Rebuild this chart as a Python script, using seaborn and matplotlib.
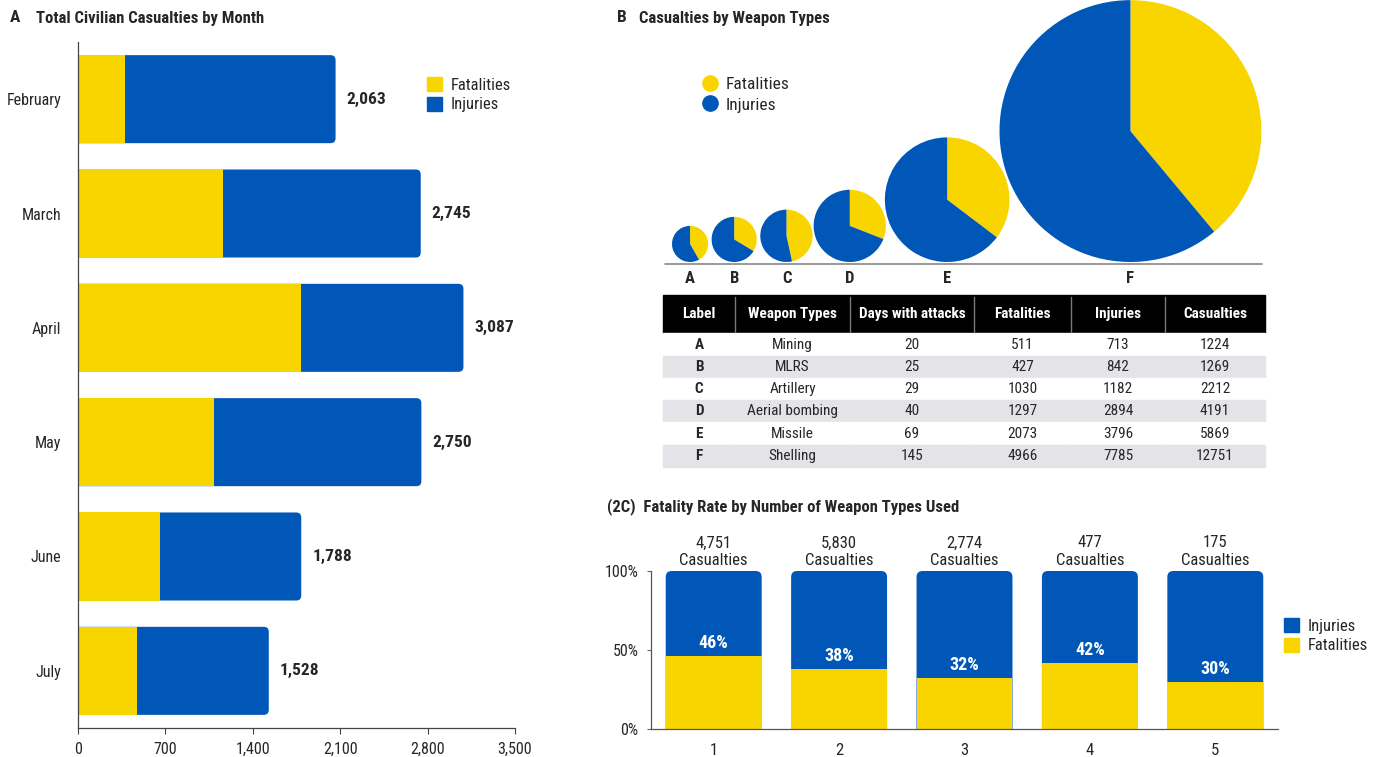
import numpy as np
import pandas as pd
import matplotlib
matplotlib.use("Agg")
import matplotlib.pyplot as plt
import seaborn as sns
from matplotlib import font_manager
from matplotlib.patches import FancyBboxPatch, Patch
from matplotlib.lines import Line2D

# DATA
months = ["February", "March", "April", "May", "June", "July"]
month_fatalities = [375, 1160, 1788, 1088, 657, 475]
month_totals = [2063, 2745, 3087, 2750, 1788, 1528]

weapon_labels = ["A", "B", "C", "D", "E", "F"]
weapon_types = ["Mining", "MLRS", "Artillery", "Aerial bombing", "Missile", "Shelling"]
attack_days = [20, 25, 29, 40, 69, 145]
weapon_fatalities = [511, 427, 1030, 1297, 2073, 4966]
weapon_injuries = [713, 842, 1182, 2894, 3796, 7785]
weapon_casualties = [1224, 1269, 2212, 4191, 5869, 12751]

n_weapon_types = ["1", "2", "3", "4", "5"]
n_casualties = [4751, 5830, 2774, 477, 175]
n_fatality_rate = [0.46, 0.38, 0.32, 0.42, 0.30]

# STYLE / LAYOUT
YELLOW = "#F9D500"
BLUE = "#0057B7"
W, H = 1381, 757
PX_PER_DAY = 0.903          # pie radius per day with attacks
PIE_GAPS = [3.5, 3.5, 1, -1, -10]

sns.set_theme(style="white")
avail = {f.name for f in font_manager.fontManager.ttflist}
FONT = "Roboto"
for cand in ["Roboto Condensed", "Liberation Sans Narrow", "Roboto"]:
    if cand in avail:
        FONT = cand
        break
plt.rcParams["font.family"] = [FONT, "DejaVu Sans"]

fig = plt.figure(figsize=(W / 100, H / 100), dpi=100)


def px_axes(left, top, right, bottom):
    return fig.add_axes([left / W, 1 - bottom / H, (right - left) / W, (bottom - top) / H])


def round_bars(ax, rad_px, horizontal=False):
    # swap bars for rounded boxes; the base end starts outside the axes
    # so its rounded corners are clipped away
    x0, x1 = ax.get_xlim()
    y0, y1 = ax.get_ylim()
    ppx = ax.bbox.width / abs(x1 - x0)
    ppy = ax.bbox.height / abs(y1 - y0)
    for p in list(ax.patches):
        x, y, w, h = p.get_x(), p.get_y(), p.get_width(), p.get_height()
        if horizontal:
            s = -2 * rad_px / ppx
            x, w = s, x + w - s
        else:
            s = -2 * rad_px / ppy
            y, h = s, y + h - s
        box = FancyBboxPatch((x, y), w, h,
                             boxstyle=f"round,pad=0,rounding_size={rad_px / ppx}",
                             mutation_aspect=ppx / ppy,
                             facecolor=p.get_facecolor(), edgecolor="none", linewidth=0)
        p.remove()
        ax.add_patch(box)


# ---------------- A ----------------
axA = px_axes(78, 42, 515, 728)
dfA = pd.DataFrame({"month": months, "fat": month_fatalities, "total": month_totals})
sns.barplot(data=dfA, x="total", y="month", color=BLUE, saturation=1, width=0.77,
            orient="h", linewidth=0, ax=axA)
axA.set_xlim(0, 3500)
round_bars(axA, 5, horizontal=True)
sns.barplot(data=dfA, x="fat", y="month", color=YELLOW, saturation=1, width=0.77,
            orient="h", linewidth=0, ax=axA)
axA.set_xlim(0, 3500)
axA.set_xticks(np.arange(0, 3501, 700))
axA.set_xticklabels([f"{v:,}" for v in range(0, 3501, 700)], fontsize=11.5)
axA.tick_params(axis="x", length=4, width=0.8, color="#444", pad=6, bottom=True)
axA.tick_params(axis="y", length=0, pad=12, labelsize=11.5)
axA.set_xlabel("")
axA.set_ylabel("")
sns.despine(ax=axA)
for s in ["left", "bottom"]:
    axA.spines[s].set_color("#444")
    axA.spines[s].set_linewidth(0.9)
for i, t in enumerate(month_totals):
    axA.text(t + 88, i, f"{t:,}", va="center", ha="left", fontweight="bold", fontsize=12.5)

fig.text(10 / W, 1 - 18 / H, "A", fontweight="bold", fontsize=12.5, va="center")
fig.text(36 / W, 1 - 18 / H, "Total Civilian Casualties by Month", fontweight="bold",
         fontsize=12, va="center")
fig.legend(handles=[Patch(color=YELLOW, label="Fatalities"), Patch(color=BLUE, label="Injuries")],
           loc="upper left", bbox_to_anchor=(427 / W, 1 - 77 / H), frameon=False,
           fontsize=12, handlelength=0.9, handleheight=0.9, handletextpad=0.5,
           labelspacing=0.25, borderpad=0, borderaxespad=0)

# ---------------- B ----------------
fig.text(617 / W, 1 - 18 / H, "B", fontweight="bold", fontsize=12.5, va="center")
fig.text(639 / W, 1 - 18 / H, "Casualties by Weapon Types", fontweight="bold",
         fontsize=12, va="center")

axP = px_axes(600, 0, 1381, 290)
radii = np.array(attack_days) * PX_PER_DAY
base_y = H - 262
cx = 672 + radii[0]
for i, r in enumerate(radii):
    if i > 0:
        cx = cx + radii[i - 1] + PIE_GAPS[i - 1] + r
    axP.pie([weapon_fatalities[i], weapon_injuries[i]], colors=[YELLOW, BLUE],
            startangle=90, counterclock=False, radius=r, center=(cx, base_y + r),
            frame=False, wedgeprops=dict(linewidth=0))
    axP.text(cx, H - 278, weapon_labels[i], ha="center", va="center",
             fontweight="bold", fontsize=12)
axP.plot([665, 1262], [H - 264, H - 264], color="#888", lw=1.2)
axP.set_xlim(600, 1381)
axP.set_ylim(H - 290, H)
axP.set_aspect("equal", adjustable="box")
axP.axis("off")

fig.legend(handles=[Line2D([], [], marker="o", ls="", color=YELLOW, markersize=11, label="Fatalities"),
                    Line2D([], [], marker="o", ls="", color=BLUE, markersize=11, label="Injuries")],
           loc="upper left", bbox_to_anchor=(701 / W, 1 - 77 / H), frameon=False,
           fontsize=12.5, handlelength=1.0, handletextpad=0.4, labelspacing=0.3,
           borderpad=0, borderaxespad=0)

# table
TBL_L, TBL_T, TBL_R, TBL_B = 663, 295, 1265, 467
HEAD_PX, ROW_PX = 38, 22
axT = px_axes(TBL_L, TBL_T, TBL_R, TBL_B)
axT.axis("off")
col_labels = ["Label", "Weapon Types", "Days with attacks", "Fatalities", "Injuries", "Casualties"]
cell_text = [[weapon_labels[i], weapon_types[i], str(attack_days[i]), str(weapon_fatalities[i]),
              str(weapon_injuries[i]), str(weapon_casualties[i])] for i in range(6)]
col_w = np.array([72, 115, 124, 97, 94, 100], dtype=float)
col_frac = col_w / col_w.sum()
tbl = axT.table(cellText=cell_text, colLabels=col_labels, colWidths=list(col_frac),
                cellLoc="center", bbox=[0, 0, 1, 1])
tbl.auto_set_font_size(False)
tbl.set_fontsize(11)
body_h = tbl[1, 0].get_height()
for (r, c), cell in tbl.get_celld().items():
    if r == 0:
        cell.set_height(body_h * HEAD_PX / ROW_PX)
        cell.set_facecolor("black")
        cell.set_edgecolor("black")
        cell.get_text().set_color("white")
        cell.get_text().set_fontweight("bold")
    else:
        fc = "#E4E4E8" if r % 2 == 0 else "white"
        cell.set_facecolor(fc)
        cell.set_edgecolor(fc)
        if c == 0:
            cell.get_text().set_fontweight("bold")
# thin grey separators inside the black header row
for xb in TBL_L + (TBL_R - TBL_L) * np.cumsum(col_frac)[:-1]:
    fig.add_artist(Line2D([xb / W, xb / W], [1 - (TBL_T + 2) / H, 1 - (TBL_T + HEAD_PX - 1) / H],
                          transform=fig.transFigure, color="#7a7a7a", lw=1.0, zorder=20))

# ---------------- C ----------------
fig.text(607 / W, 1 - 507 / H, "(2C)  Fatality Rate by Number of Weapon Types Used",
         fontweight="bold", fontsize=12, va="center")
axC = px_axes(651, 571, 1278, 729)
rate = np.array(n_fatality_rate)
dfC = pd.DataFrame({"n": n_weapon_types, "fat": rate, "whole": rate + (1 - rate)})
sns.barplot(data=dfC, x="n", y="whole", color=BLUE, saturation=1, width=0.765,
            linewidth=0, ax=axC)
axC.set_ylim(0, 1)
round_bars(axC, 6)
sns.barplot(data=dfC, x="n", y="fat", color=YELLOW, saturation=1, width=0.765,
            linewidth=0, ax=axC)
axC.set_ylim(0, 1)
axC.set_yticks([0, 0.5, 1])
axC.set_yticklabels(["0%", "50%", "100%"], fontsize=11.5)
axC.tick_params(axis="y", length=3, width=0.8, color="#666", pad=6, left=True)
axC.tick_params(axis="x", length=0, pad=10, labelsize=12)
axC.set_xlabel("")
axC.set_ylabel("")
sns.despine(ax=axC)
for s in ["left", "bottom"]:
    axC.spines[s].set_color("#555")
    axC.spines[s].set_linewidth(0.9)
for i, (rt, n) in enumerate(zip(n_fatality_rate, n_casualties)):
    axC.text(i, rt + 0.025, f"{round(rt * 100)}%", ha="center", va="bottom",
             color="white", fontweight="bold", fontsize=13)
    axC.text(i, 1.02, f"{n:,}\nCasualties", ha="center", va="bottom", fontsize=12,
             linespacing=1.2, clip_on=False)

fig.legend(handles=[Patch(color=BLUE, label="Injuries"), Patch(color=YELLOW, label="Fatalities")],
           loc="upper left", bbox_to_anchor=(1284 / W, 1 - 618 / H), frameon=False,
           fontsize=12, handlelength=0.9, handleheight=0.9, handletextpad=0.5,
           labelspacing=0.25, borderpad=0, borderaxespad=0)

fig.savefig("out.png", dpi=100)
